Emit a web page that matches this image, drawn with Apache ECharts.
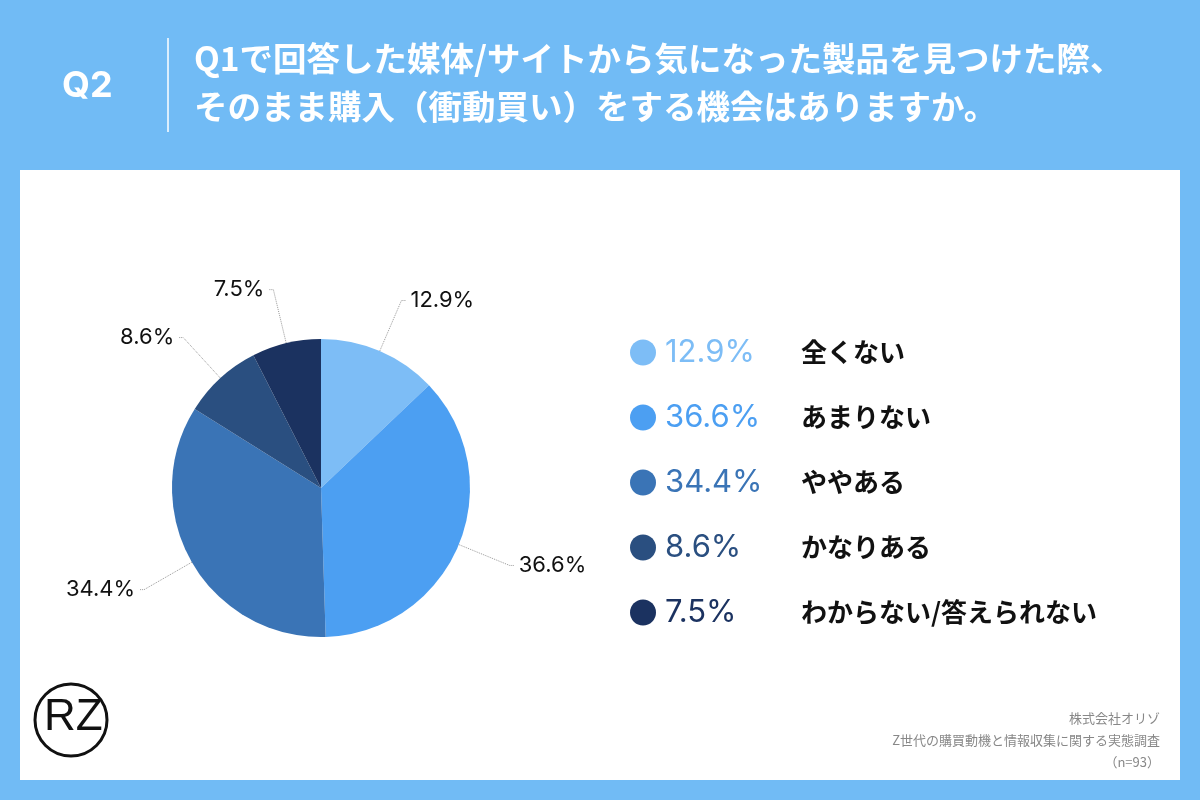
<!DOCTYPE html>
<html><head><meta charset="utf-8">
<script src="https://cdn.jsdelivr.net/npm/echarts@6/dist/echarts.min.js"></script>
<style>body{margin:0}#c{width:1200px;height:800px}</style>
</head><body><div id="c"></div>
<script>
const categories = ['全くない', 'あまりない', 'ややある', 'かなりある', 'わからない/答えられない'];
const values = [12.9, 36.6, 34.4, 8.6, 7.5];
const colors = ['#7dbdf6', '#4c9ff2', '#3a74b6', '#2a4f80', '#1b3260'];
const titleLines = ['Q1で回答した媒体/サイトから気になった製品を見つけた際、', 'そのまま購入（衝動買い）をする機会はありますか。'];
const sourceLines = ['株式会社オリゾ', 'Z世代の購買動機と情報収集に関する実態調査', '（n=93）'];

const font = '"Noto Sans CJK JP", sans-serif';
const chart = echarts.init(document.getElementById('c'));

const rich = { n: { fontSize: 26, fontWeight: 'bold', color: '#111', fontFamily: font } };
colors.forEach((c, i) => { rich['p' + i] = { fontSize: 31, color: c, width: 136, padding: [0, 0, 0, 4], fontFamily: 'Inter, sans-serif' }; });

chart.setOption({
  backgroundColor: '#71bbf5',
  graphic: [
    { type: 'rect', shape: { x: 20, y: 170, width: 1160, height: 610 }, style: { fill: '#fff' }, z: -1 },
    { type: 'text', left: 62, top: 68, style: { text: 'Q2', fill: '#fff', font: 'bold 36px Inter, sans-serif' } },
    { type: 'line', shape: { x1: 168, y1: 38, x2: 168, y2: 132 }, style: { stroke: '#fff', lineWidth: 1.5 } },
    { type: 'text', left: 194, top: 34, style: { text: titleLines.join('\n'), fill: '#fff', font: 'bold 33.5px ' + font, lineHeight: 48 } },
    { type: 'circle', shape: { cx: 71, cy: 720, r: 36 }, style: { fill: 'none', stroke: '#111', lineWidth: 3 } },
    { type: 'text', left: 44, top: 696, style: { text: 'RZ', fill: '#111', font: '44px sans-serif' } },
    ...sourceLines.map((t, i) => ({ type: 'text', x: 1160, y: 712 + i * 22, style: { text: t, fill: '#888', font: '13px ' + font, align: 'right' } }))
  ],
  color: colors,
  legend: {
    orient: 'vertical', left: 624, top: 332, itemGap: 34, icon: 'circle', itemWidth: 26, itemHeight: 26,
    selectedMode: false, data: categories,
    formatter: name => { const i = categories.indexOf(name); return '{p' + i + '|' + values[i].toFixed(1) + '%}{n|' + name + '}'; },
    textStyle: { rich }
  },
  series: [{
    type: 'pie', center: [321, 488], radius: 149, startAngle: 90, clockwise: true,
    data: categories.map((n, i) => ({ name: n, value: values[i] })),
    label: { formatter: p => p.value.toFixed(1) + '%', fontSize: 22, color: '#111', fontFamily: 'Inter, sans-serif' },
    labelLine: { length: 55, length2: 4, lineStyle: { type: 'dotted', color: '#999' } },
    itemStyle: { borderColor: 'transparent' }
  }]
});
</script></body></html>
